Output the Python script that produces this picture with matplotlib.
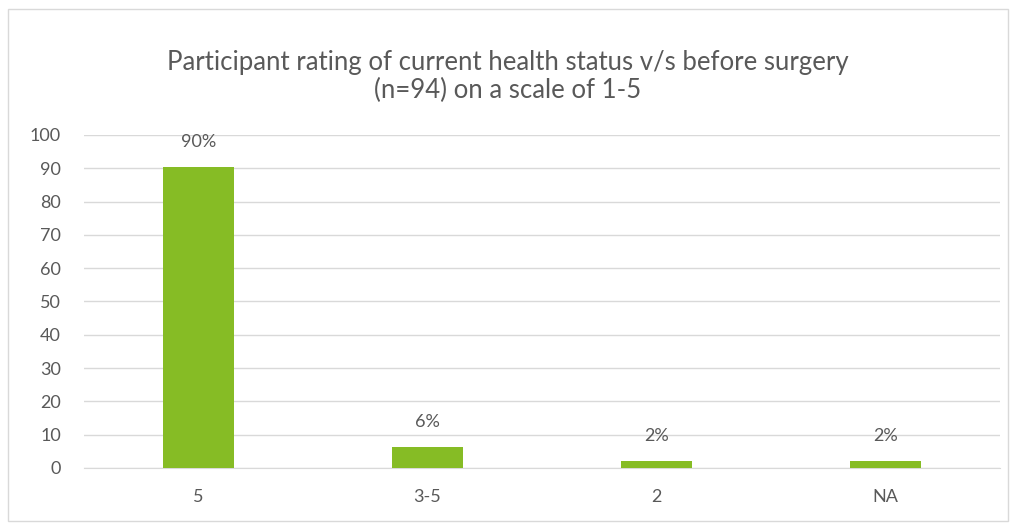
import numpy as np
import matplotlib.pyplot as plt
from matplotlib.patches import Rectangle

plt.rcParams['font.family'] = ['Lato', 'DejaVu Sans']

# data
categories = ["5", "3-5", "2", "NA"]
values = [90.4, 6.4, 2.1, 2.1]
labels = ["90%", "6%", "2%", "2%"]

grey = "#595959"
green = "#86bc25"

fig = plt.figure(figsize=(10.16, 5.27), dpi=100)
ax = fig.add_axes([0.0827, 0.112, 0.9013, 0.632])

x = np.arange(len(categories))
ax.bar(x, values, width=0.31, color=green, zorder=3)
for xi, v, lab in zip(x, values, labels):
    ax.text(xi, v + 7.4, lab, ha="center", va="center", fontsize=13, color=grey)

ax.set_xlim(-0.5, len(categories) - 0.5)
ax.set_ylim(0, 100)
ax.set_yticks(range(0, 101, 10))
ax.set_xticks(x)
ax.set_xticklabels(categories)
ax.yaxis.grid(color="#d9d9d9", linestyle="solid", linewidth=1, zorder=0)
ax.tick_params(axis="both", length=0, labelsize=13, labelcolor=grey)
ax.tick_params(axis="x", pad=15)
ax.tick_params(axis="y", pad=16.5)
for s in ["top", "right", "left"]:
    ax.spines[s].set_visible(False)
ax.spines["bottom"].set_color("#d9d9d9")

fig.text(0.5, 0.882, "Participant rating of current health status v/s before surgery",
         ha="center", va="center", fontsize=18.5, color=grey)
fig.text(0.5, 0.829, "(n=94) on a scale of 1-5",
         ha="center", va="center", fontsize=18.5, color=grey)

# chart border
fig.patches.append(Rectangle((0.008, 0.011), 0.984, 0.972, transform=fig.transFigure,
                             fill=False, edgecolor="#d9d9d9", linewidth=1))

plt.savefig("out.png", dpi=100)
